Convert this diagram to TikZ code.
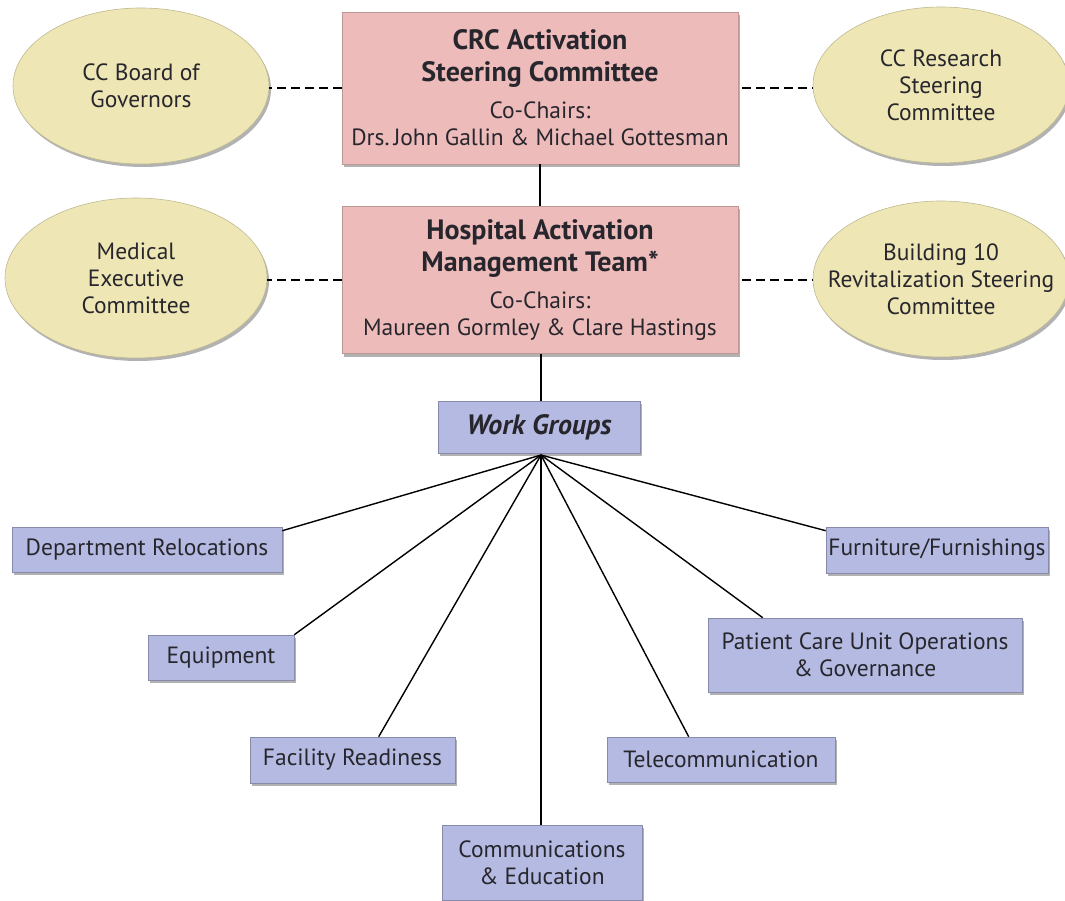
\documentclass[tikz,border=0pt]{standalone}
\usepackage{fontspec}
\setmainfont{PT Sans}
\usetikzlibrary{shapes.geometric, shadows, calc}

\definecolor{crcpink}{RGB}{237,187,186}
\definecolor{cckhaki}{RGB}{238,231,181}
\definecolor{wglav}{RGB}{180,186,225}
\definecolor{txtdark}{RGB}{40,38,45}

\begin{document}
\begin{tikzpicture}[x=1pt, y=-1pt, line width=1.5pt,
  every node/.style={text=txtdark, font=\fontsize{23.5}{27}\selectfont, align=center, inner sep=0pt},
  soft/.style={drop shadow={shadow xshift=2pt, shadow yshift=-3pt, opacity=.3, fill=black}},
  pinkbox/.style={soft, draw=crcpink!80!black, line width=.6pt, fill=crcpink, minimum width=396pt},
  oval/.style={soft, ellipse, draw=cckhaki!80!black, line width=.6pt, fill=cckhaki, minimum width=256pt, minimum height=156pt},
  wgbox/.style={soft, draw=wglav!75!black, line width=.6pt, fill=wglav},
  dashline/.style={dashed, dash pattern=on 9pt off 5pt, line width=1.4pt},
  spoke/.style={line width=1.4pt}]

\clip (0,0) rectangle (1065,901);

% steering level
\node[pinkbox, minimum height=152pt] (crc) at (540,88)
  {{\fontsize{28}{27}\selectfont\bfseries CRC Activation}\\[5pt]
   {\fontsize{28}{27}\selectfont\bfseries Steering Committee}\\[10pt]
   Co-Chairs:\\ Drs.\,John Gallin \& Michael Gottesman};
\node[oval] (cbg) at (141,86) {CC Board of\\ Governors};
\node[oval] (ccr) at (941,85) {CC Research\\ Steering\\ Committee};

% management level
\node[pinkbox, minimum height=147pt] (hamt) at (540,280)
  {{\fontsize{28}{27}\selectfont\bfseries Hospital Activation}\\[5pt]
   {\fontsize{28}{27}\selectfont\bfseries Management Team*}\\[10pt]
   Co-Chairs:\\ Maureen Gormley \& Clare Hastings};
\node[oval, minimum width=262pt, minimum height=160pt] (mec) at (136,278) {Medical\\ Executive\\ Committee};
\node[oval, inner xsep=-40pt] (b10) at (941,279) {Building 10\\ Revitalization Steering\\ Committee};

\draw[dashline] (crc.west) -- (crc.west -| cbg.east);
\draw[dashline] ($(crc.east)+(4,0)$) -- (crc.east -| ccr.west);
\draw[dashline] (hamt.west) -- (hamt.west -| mec.east);
\draw[dashline] ($(hamt.east)+(4,0)$) -- (hamt.east -| b10.west);
\draw (crc) -- (hamt);

% work groups
\node[wgbox, minimum width=202pt, minimum height=52pt, font=\fontsize{28}{27}\selectfont\bfseries\itshape] (wg) at (539,427) {Work Groups};
\draw (hamt.south -| 541,0) -- (wg.north -| 541,0);
\coordinate (hub) at (541,455);

\node[wgbox, minimum width=270pt, minimum height=45pt] (dept) at (147,549.5) {Department Relocations};
\node[wgbox, minimum width=222pt, minimum height=46pt] (furn) at (937,550) {Furniture/Furnishings};
\node[wgbox, minimum width=146pt, minimum height=45pt] (equip) at (221,657.5) {Equipment};
\node[wgbox, minimum width=314pt, minimum height=74pt] (pcu) at (865,655) {Patient Care Unit Operations\\ \& Governance};
\node[wgbox, minimum width=205pt, minimum height=46pt] (fac) at (352.5,760) {Facility Readiness};
\node[wgbox, minimum width=228pt, minimum height=45pt] (tel) at (721,759.5) {Telecommunication};
\node[wgbox, minimum width=200pt, minimum height=75pt] (comm) at (542,862.5) {Communications\\ \& Education};

\draw[spoke] (hub) -- ($(dept.north east)+(0,4)$);
\draw[spoke] (hub) -- (equip.north east);
\draw[spoke] (hub) -- ($(fac.north west)+(129,0)$);
\draw[spoke] (hub) -- (hub |- comm.north);
\draw[spoke] (hub) -- ($(tel.north west)+(82,0)$);
\draw[spoke] (hub) -- ($(pcu.north west)+(55,0)$);
\draw[spoke] (hub) -- ($(furn.north west)+(0,4)$);

\end{tikzpicture}
\end{document}
